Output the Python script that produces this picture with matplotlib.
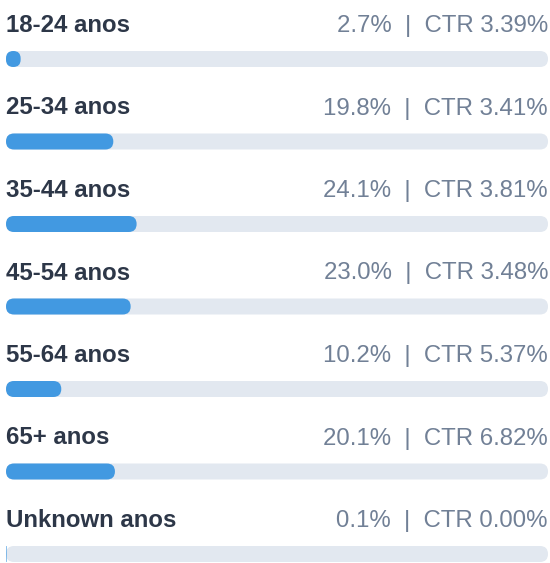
import matplotlib
matplotlib.use("Agg")
import matplotlib.pyplot as plt
from matplotlib.patches import FancyBboxPatch

# data
age_groups = ["18-24", "25-34", "35-44", "45-54", "55-64", "65+", "Unknown"]
share_pct = [2.7, 19.8, 24.1, 23.0, 10.2, 20.1, 0.1]
ctr_pct = [3.39, 3.41, 3.81, 3.48, 5.37, 6.82, 0.00]

W, H = 550, 563
fig = plt.figure(figsize=(W / 100, H / 100), dpi=100)
ax = fig.add_axes([0, 0, 1, 1])
ax.set_xlim(0, W)
ax.set_ylim(H, 0)
ax.axis("off")

plt.rcParams["font.family"] = ["Liberation Sans", "DejaVu Sans"]

x0, x1 = 6, 548
track_w = x1 - x0
bar_h = 16
pitch = 82.5
fs = 17.3


def pill(x, yc, w, h, color):
    r = min(h / 2, w / 2)
    p = FancyBboxPatch((x, yc - h / 2), w, h,
                       boxstyle=f"round,pad=0,rounding_size={r}",
                       facecolor=color, edgecolor="none", mutation_aspect=1)
    ax.add_patch(p)


for i, (grp, share, ctr) in enumerate(zip(age_groups, share_pct, ctr_pct)):
    base = 32 + i * pitch
    yc = 59 + i * pitch
    ax.text(x0, base, f"{grp} anos", fontsize=fs, fontweight="bold",
            color="#2d3748", va="baseline", ha="left")
    ax.text(x1, base, f"{share:.1f}%  |  CTR {ctr:.2f}%", fontsize=fs,
            color="#718096", va="baseline", ha="right")
    pill(x0, yc, track_w, bar_h, "#e2e8f0")
    w = max(track_w * share / 100, 0.6)
    pill(x0, yc, w, bar_h, "#4299e1")

fig.savefig("out.png", dpi=100)
